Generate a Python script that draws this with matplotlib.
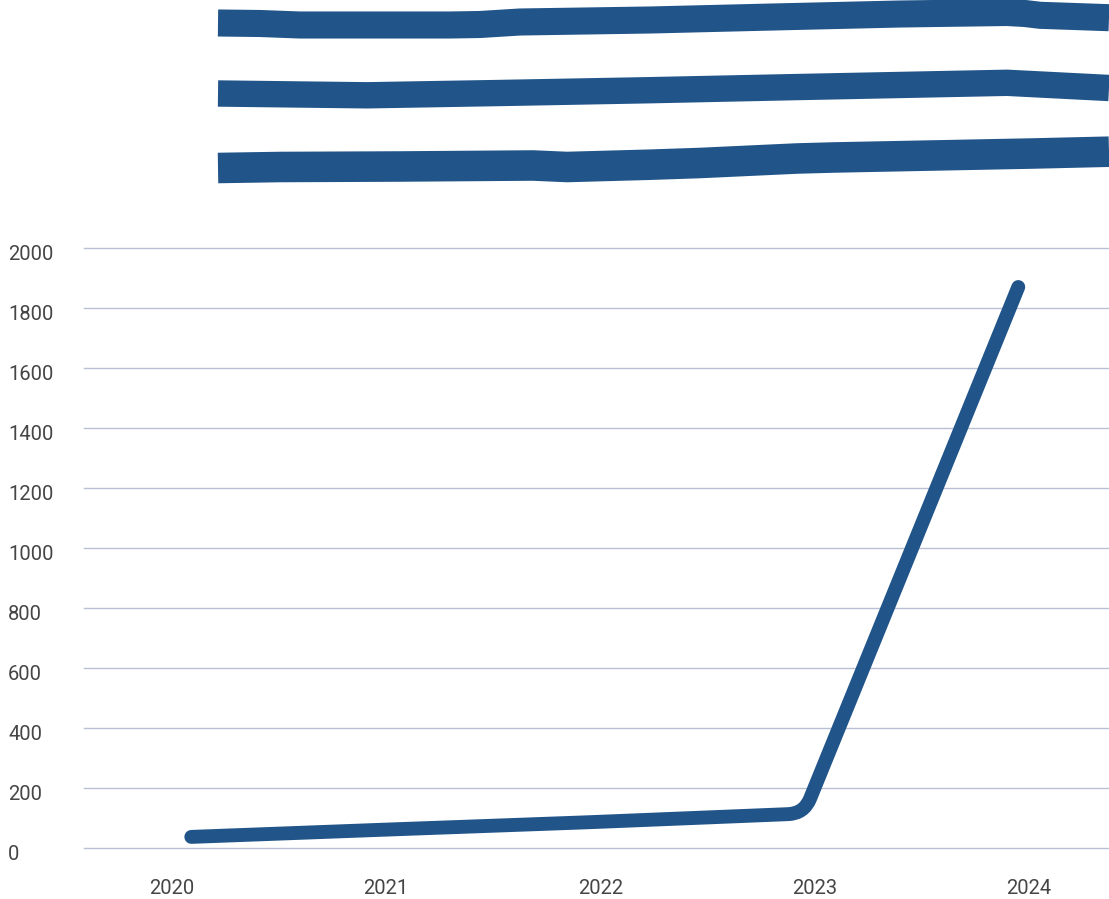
import matplotlib
matplotlib.use("Agg")
import matplotlib.pyplot as plt
import numpy as np
from matplotlib.path import Path
from matplotlib.patches import PathPatch
from matplotlib.transforms import ScaledTranslation

# series: fractional year -> count
years = [2020.09, 2020.95, 2021.95, 2022.95, 2023.95]
counts = [37, 60, 86, 115, 1870]

year_ticks = [2020, 2021, 2022, 2023, 2024]
count_ticks = list(range(0, 2001, 200))

# redacted heading strokes (figure pixels, y from top)
stroke_1 = [(218, 23), (260, 23.5), (300, 25), (450, 25), (480, 24.5), (520, 22), (650, 20),
            (773, 17), (900, 14), (1007, 12.5), (1025, 13.5), (1040, 15.3), (1109, 17.7)]
stroke_2 = [(218, 93.5), (300, 94.5), (367, 95.3), (500, 93), (650, 90.2), (800, 87),
            (1007, 82.8), (1109, 88)]
stroke_3 = [(218, 168), (280, 167), (400, 166.5), (533, 165.5), (567, 167), (650, 164.7),
            (700, 163), (797, 158.5), (833, 157.5), (1033, 153.5), (1109, 151.7)]

BLUE = "#215589"
GRID = "#b8c0d4"
TXT = "#454545"
W, H = 1109, 899

plt.rcParams["font.family"] = ["Roboto", "DejaVu Sans"]


def rounded_path(ax, xs, ys, r_px=16):
    """Polyline with small fillets at the interior vertices (radius in pixels)."""
    pts = ax.transData.transform(np.column_stack([xs, ys]))
    verts, codes = [pts[0]], [Path.MOVETO]
    for i in range(1, len(pts) - 1):
        p, a, b = pts[i], pts[i - 1], pts[i + 1]
        la, lb = np.linalg.norm(a - p), np.linalg.norm(b - p)
        r = min(r_px, la / 2, lb / 2)
        verts += [p + (a - p) / la * r, p, p + (b - p) / lb * r]
        codes += [Path.LINETO, Path.CURVE3, Path.CURVE3]
    verts.append(pts[-1])
    codes.append(Path.LINETO)
    return Path(ax.transData.inverted().transform(np.array(verts)), codes)


fig = plt.figure(figsize=(W / 100, H / 100), dpi=100)
fig.patch.set_facecolor("white")

# background layer in pixel units for the heading strokes
bg = fig.add_axes([0, 0, 1, 1])
bg.set_xlim(0, W); bg.set_ylim(H, 0); bg.axis("off")
for pts, lw in ((stroke_1, 19.5), (stroke_2, 19.0), (stroke_3, 22.0)):
    p = np.array(pts)
    bg.plot(p[:, 0], p[:, 1], color=BLUE, lw=lw, solid_capstyle="butt", solid_joinstyle="round")

ax = fig.add_axes([84 / W, (H - 848) / H, (W - 84) / W, 600 / H])
ax.set_xlim(2020 - 88 / 214.25, 2020 + (W - 172) / 214.25)
ax.set_ylim(0, 2000)
for s in ax.spines.values():
    s.set_visible(False)
ax.set_facecolor("none")

ax.set_yticks(count_ticks)
ax.set_yticklabels([str(v) for v in count_ticks])
ax.set_xticks(year_ticks)
ax.set_xticklabels([str(v) for v in year_ticks])
for v in count_ticks:
    ax.axhline(v, color=GRID, lw=1, clip_on=False, zorder=1)
ax.tick_params(axis="y", length=0, pad=54.7, labelsize=14.5, labelcolor=TXT)
ax.tick_params(axis="x", length=0, pad=22, labelsize=14.5, labelcolor=TXT)
shift = ScaledTranslation(0, -5 / 100, fig.dpi_scale_trans)
for lab in ax.get_yticklabels():
    lab.set_horizontalalignment("left")
    lab.set_transform(lab.get_transform() + shift)

ax.add_patch(PathPatch(rounded_path(ax, years, counts), fill=False, edgecolor=BLUE, lw=10,
                       capstyle="round", joinstyle="round", clip_on=False, zorder=3))

fig.savefig("out.png", dpi=100, facecolor="white")
